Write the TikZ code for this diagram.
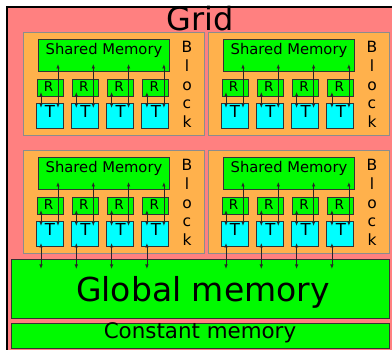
\documentclass[tikz,border=0pt]{standalone}
\usepackage{fontspec}
\setmainfont{DejaVu Sans}
\usetikzlibrary{arrows.meta}
\definecolor{gridpink}{RGB}{255,128,128}
\definecolor{blockorange}{RGB}{255,177,76}
\definecolor{memgreen}{RGB}{0,250,0}
\definecolor{thcyan}{RGB}{0,255,255}
\newcommand{\fsz}[1]{\fontsize{#1}{#1}\selectfont}
\begin{document}
\begin{tikzpicture}[x=1pt,y=-1pt,
  box/.style={rectangle,draw=black!80,line width=0.9pt,inner sep=0pt,outer sep=0pt,anchor=north west},
  blockbox/.style={box,fill=blockorange,draw=black!45,minimum width=181pt,minimum height=103pt},
  shbox/.style={box,fill=memgreen,minimum width=131pt,minimum height=32pt},
  regbox/.style={box,fill=memgreen,minimum width=26pt,minimum height=17pt},
  thbox/.style={box,fill=thcyan,minimum width=27pt,minimum height=25pt},
  membox/.style={box,fill=memgreen},
  lbl/.style={inner sep=0pt,outer sep=0pt,anchor=base},
  darr/.style={{Latex[length=4.5pt,width=3.5pt]}-{Latex[length=4.5pt,width=3.5pt]},line width=0.8pt,draw=black!85}]
\useasboundingbox (0,0) rectangle (392,350);
\clip (0,0) rectangle (392,350);
% grid
\node[box,fill=gridpink,draw=black,line width=2pt,minimum width=400pt,minimum height=360pt] (grid) at (7,7) {};
% memories
\node[membox,minimum width=378pt,minimum height=59pt] (gm) at (11,259) {};
\node[membox,minimum width=378pt,minimum height=25pt] (cm) at (11,323) {};
\node[lbl,font=\fsz{33}] (gmt) at (203,301.5) {Global memory};
\node[lbl,font=\fsz{21.4}] (cmt) at (200,339) {Constant memory};
% blocks
\foreach \bx/\by/\b/\glob in {23/32/a/0,208/32/b/0,23/150/c/1,208/150/d/1}{
  \node[blockbox] (blk\b) at (\bx,\by) {};
  \node[shbox] (sh\b) at (\bx+15,\by+7) {};
  \node[lbl,font=\fsz{14.75}] (sht\b) at (\bx+81,\by+23) {Shared Memory};
  \foreach \j/\ch/\dy in {1/B/21,2/l/40,3/o/58.5,4/c/77,5/k/96}{
    \node[lbl,font=\fsz{15.5}] (bl\b\j) at (\bx+164,\by+\dy) {\ch};
  }
  \foreach \i in {0,1,2,3}{
    \node[regbox] (r\b\i) at (\bx+14+35.3*\i,\by+47) {};
    \node[thbox] (t\b\i) at (\bx+13+35.3*\i,\by+71) {};
    \node[lbl,font=\fsz{13.5}] (rt\b\i) at ([xshift=-1.5pt,yshift=4pt]r\b\i.south) {R};
    \node[lbl,font=\fsz{16.5}] (tt\b\i) at ([xshift=0.5pt,yshift=10pt]t\b\i.south) {T};
    \coordinate (ra\b\i) at ([xshift=4pt,yshift=4pt]r\b\i.south west);
    \coordinate (ta\b\i) at (ra\b\i |- t\b\i.north);
    \draw[darr] (ra\b\i) -- ([yshift=-5pt]ta\b\i);
    \coordinate (tb\b\i) at ([xshift=22pt,yshift=-5pt]t\b\i.north west);
    \coordinate (sb\b\i) at (tb\b\i |- sh\b.south);
    \draw[darr] (tb\b\i) -- ([yshift=7pt]sb\b\i);
    \ifnum\glob=1
      \coordinate (tc\b\i) at (ra\b\i |- t\b\i.south);
      \coordinate (gc\b\i) at (ra\b\i |- gm.north);
      \draw[darr] ([yshift=3pt]tc\b\i) -- ([yshift=-10pt]gc\b\i);
    \fi
  }
}
\node[lbl,font=\fsz{32}] (gridt) at (200,31) {Grid};
\end{tikzpicture}
\end{document}
